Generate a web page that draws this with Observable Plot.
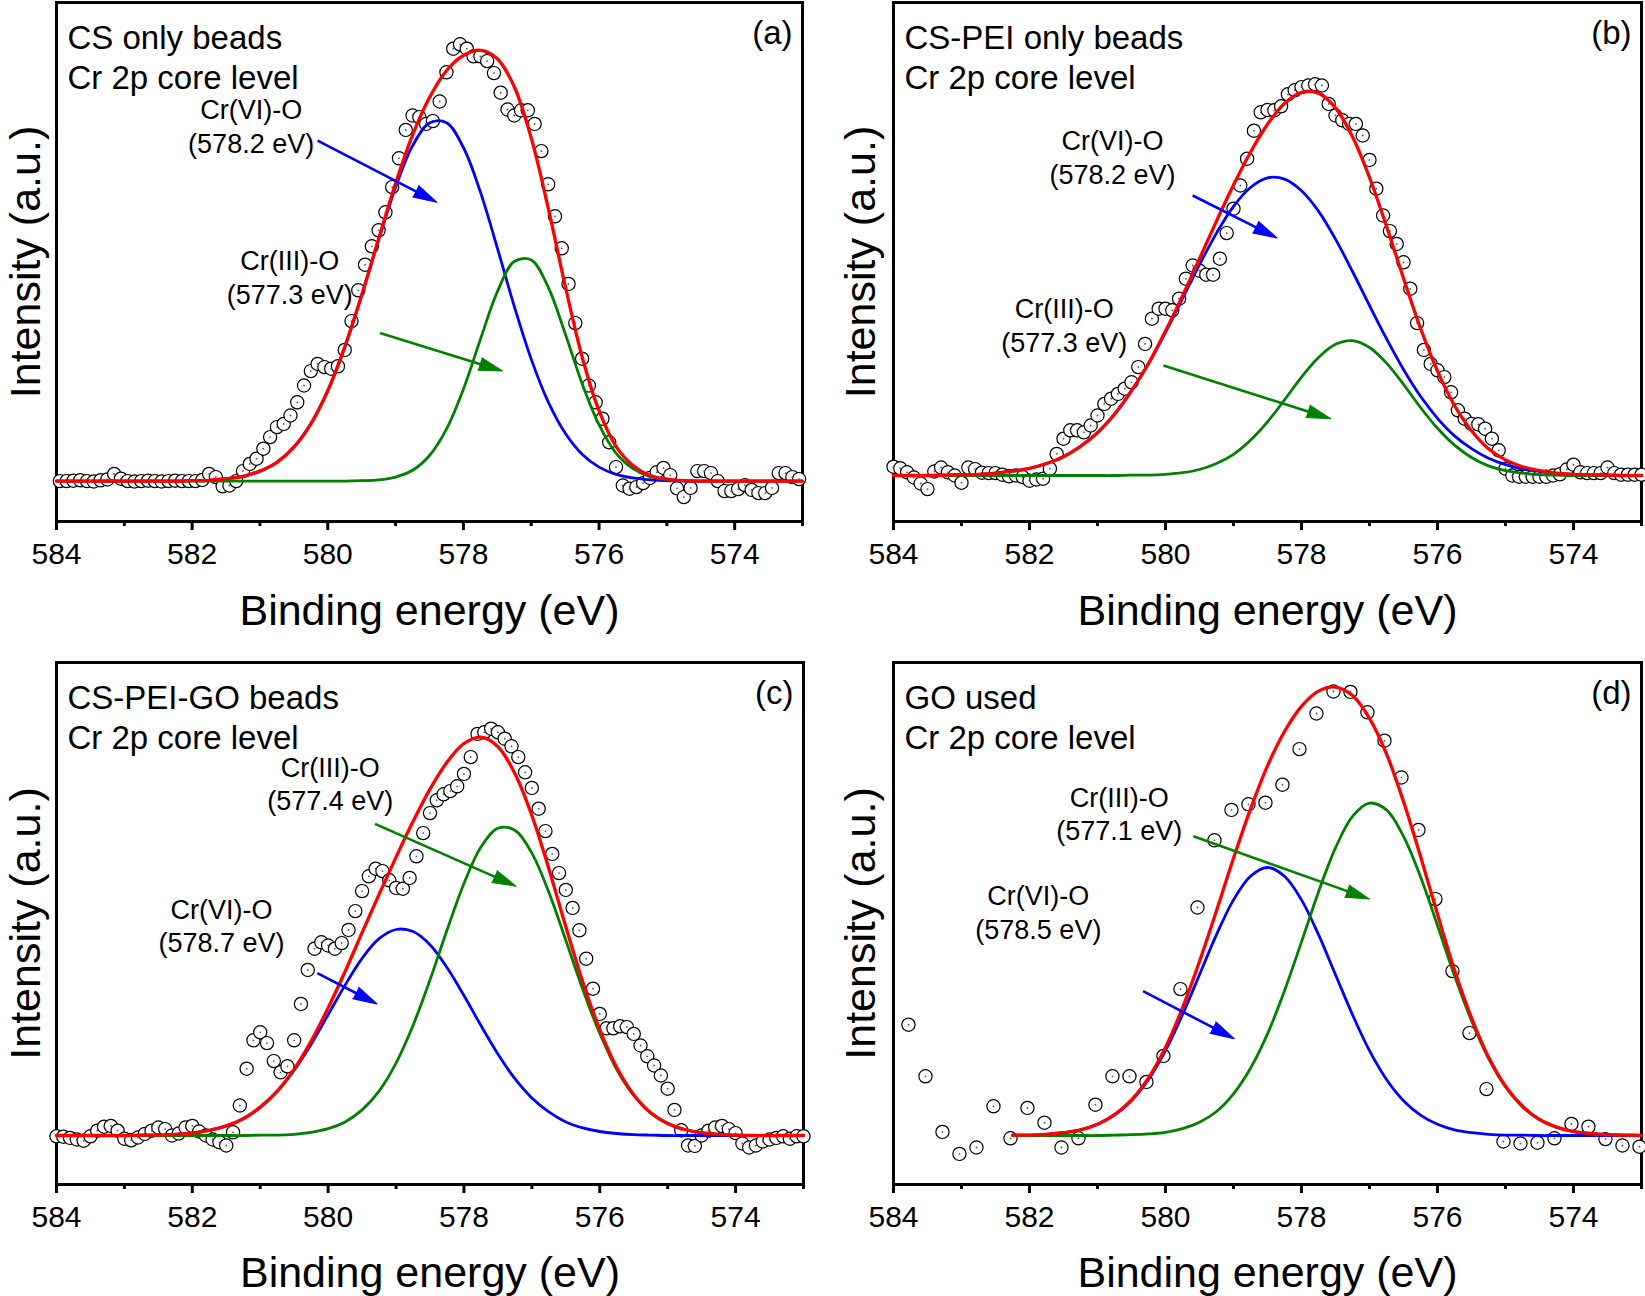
<!DOCTYPE html>
<html>
<head>
<meta charset="utf-8">
<script src="https://cdn.jsdelivr.net/npm/d3@7"></script>
<script src="https://cdn.jsdelivr.net/npm/@observablehq/plot@0.6"></script>
<style>
html,body{margin:0;padding:0;background:#fff;}
#fig{position:relative;width:1645px;height:1296px;overflow:hidden;background:#fff;}
.panel{position:absolute;}
</style>
</head>
<body>
<div id="fig"></div>
<script>
// ---------- DATA ----------
const xTicks = [584, 582, 580, 578, 576, 574];
const xMinorTicks = [583, 581, 579, 577, 575, 573];
const panelTitles = ["CS only beads\nCr 2p core level", "CS-PEI only beads\nCr 2p core level", "CS-PEI-GO beads\nCr 2p core level", "GO used\nCr 2p core level"];
const panelTags = ["(a)", "(b)", "(c)", "(d)"];
const xTitle = "Binding energy (eV)";
const yTitle = "Intensity (a.u.)";

// scan grids (eV) for the measured points
const scanStep = 0.1;
const scanStartA = 583.95, scanStartB = 584.0, scanStartC = 584.0;

const intensityA = [
  0.000,0.000,0.001,0.002,0.000,-0.001,0.002,0.004,0.018,0.006,
  0.000,-0.001,0.000,0.001,0.000,-0.001,0.000,0.001,0.000,0.000,
  0.000,0.003,
  0.018,0.010,-0.013,-0.011,0.000,0.025,0.043,0.056,0.081,0.110,
  0.135,0.143,0.164,0.197,0.239,0.275,0.293,0.285,0.281,0.287,
  0.328,0.400,0.477,0.541,0.587,0.627,0.672,0.735,0.807,0.878,
  0.914,0.910,0.893,0.900,0.949,1.022,1.081,1.092,1.081,1.062,
  1.062,1.050,1.020,0.971,0.929,0.914,0.927,0.927,0.893,0.825,
  0.742,0.662,0.582,0.493,0.395,0.306,0.239,0.197,0.156,0.097,
  0.035,-0.011,-0.019,-0.015,-0.005,0.008,0.022,0.033,0.015,-0.018,
  -0.040,-0.017,0.025,0.025,0.020,0.000,-0.025,-0.025,-0.020,-0.010,
  -0.022,-0.030,-0.030,-0.017,0.020,0.020,0.010,0.005
];
const intensityB = [
  0.022,0.018,0.008,-0.005,-0.020,-0.034,0.010,0.020,0.008,0.000,
  -0.018,0.020,0.016,0.007,0.006,0.006,0.002,-0.002,0.000,-0.004,
  -0.013,-0.010,-0.008,0.017,0.054,0.092,0.113,0.113,0.108,0.125,
  0.150,0.179,0.192,0.204,0.217,0.233,0.271,0.329,0.392,0.417,
  0.417,0.413,0.442,0.492,0.525,0.512,0.502,0.502,0.542,0.606,
  0.667,0.725,0.792,0.862,0.908,0.914,0.913,0.923,0.953,0.963,
  0.971,0.975,0.978,0.975,0.929,0.900,0.888,0.879,0.879,0.850,
  0.789,0.717,0.650,0.611,0.579,0.533,0.467,0.381,0.314,0.279,
  0.263,0.246,0.208,0.163,0.142,0.129,0.128,0.117,0.092,0.063,
  0.017,0.000,-0.003,-0.003,-0.003,-0.003,-0.003,0.000,0.003,0.015,
  0.027,0.008,0.006,0.006,0.006,0.020,0.006,0.002,0.002,0.002,
  0.002
];
const intensityC = [
  -0.002,-0.003,-0.006,-0.010,-0.013,-0.002,0.012,0.022,0.024,0.012,
  -0.008,-0.012,-0.005,0.004,0.012,0.020,0.016,0.000,0.005,0.020,
  0.024,0.010,0.000,-0.010,-0.017,-0.025,0.008,0.075,0.167,0.238,
  0.258,0.231,0.186,0.158,0.173,0.238,0.329,0.414,0.467,0.483,
  0.475,0.467,0.481,0.514,0.561,0.611,0.648,0.667,0.661,0.638,
  0.619,0.617,0.644,0.698,0.756,0.806,0.838,0.853,0.861,0.873,
  0.904,0.946,1.004,1.008,1.017,1.008,0.992,0.973,0.946,0.908,
  0.869,0.817,0.761,0.704,0.656,0.614,0.569,0.513,0.442,0.367,
  0.304,0.268,0.268,0.273,0.271,0.254,0.225,0.198,0.175,0.150,
  0.117,0.064,0.013,-0.025,-0.026,0.000,0.012,0.020,0.024,0.016,
  0.006,-0.020,-0.030,-0.025,-0.015,-0.010,-0.006,-0.002,-0.008,-0.002,
  -0.002
];
const energyD = [583.78,583.53,583.28,583.03,582.78,582.53,582.28,582.03,581.78,581.53,581.28,581.03,580.78,580.53,580.28,580.03,579.78,579.53,579.28,579.03,578.78,578.53,578.28,578.03,577.78,577.53,577.28,577.03,576.78,576.53,576.28,576.03,575.78,575.53,575.28,575.03,574.78,574.53,574.28,574.03,573.78,573.53,573.28,573.03];
const intensityD = [0.277,0.148,0.009,-0.046,-0.030,0.073,-0.007,0.069,0.032,-0.030,-0.007,0.077,0.148,0.148,0.134,0.199,0.366,0.570,0.738,0.814,0.828,0.832,0.877,0.966,1.055,1.110,1.109,1.058,0.987,0.895,0.764,0.591,0.411,0.256,0.116,-0.015,-0.020,-0.018,-0.007,0.029,0.022,-0.009,-0.025,-0.028];

// fitted components, read at 0.25 eV steps
const fitEnergy = [584,583.75,583.5,583.25,583,582.75,582.5,582.25,582,581.75,581.5,581.25,581,580.75,580.5,580.25,580,579.75,579.5,579.25,579,578.75,578.5,578.25,578,577.75,577.5,577.25,577,576.75,576.5,576.25,576,575.75,575.5,575.25,575,574.75,574.5,574.25,574,573.75,573.5,573.25,573];
const fitEnergyD = [582.25,582,581.75,581.5,581.25,581,580.75,580.5,580.25,580,579.75,579.5,579.25,579,578.75,578.5,578.25,578,577.75,577.5,577.25,577,576.75,576.5,576.25,576,575.75,575.5,575.25,575,574.75,574.5,574.25,574,573.75,573.5,573.25,573];

const cr6FitA = [0,0,0,0,0,0,0,0,0.001,0.002,0.006,0.012,0.025,0.047,0.085,0.143,0.226,0.335,0.464,0.603,0.734,0.838,0.895,0.896,0.834,0.723,0.583,0.437,0.305,0.198,0.120,0.067,0.035,0.017,0.008,0.003,0.001,0,0,0,0,0,0,0,0];
const cr3FitA = [0,0,0,0,0,0,0,0,0,0,0,0,0,0,0,0,0,0,0.001,0.003,0.010,0.027,0.064,0.130,0.230,0.354,0.473,0.549,0.553,0.485,0.369,0.244,0.141,0.070,0.031,0.011,0.004,0.001,0,0,0,0,0,0,0];
const envFitA = [0,0,0,0,0,0,0,0,0.001,0.002,0.006,0.012,0.025,0.047,0.085,0.143,0.226,0.335,0.465,0.606,0.744,0.865,0.959,1.026,1.064,1.077,1.056,0.986,0.858,0.683,0.489,0.311,0.176,0.087,0.039,0.014,0.005,0.001,0,0,0,0,0,0,0];

const cr6FitB = [0,0,0,0.001,0.002,0.003,0.006,0.011,0.018,0.030,0.047,0.073,0.107,0.153,0.211,0.279,0.358,0.442,0.527,0.606,0.673,0.720,0.744,0.741,0.712,0.661,0.591,0.510,0.425,0.342,0.265,0.198,0.143,0.099,0.067,0.043,0.027,0.016,0.010,0.005,0.003,0.002,0.001,0,0];
const cr3FitB = [0,0,0,0,0,0,0,0,0,0,0,0,0,0,0.001,0.001,0.003,0.007,0.015,0.030,0.053,0.088,0.134,0.189,0.246,0.295,0.328,0.337,0.320,0.281,0.228,0.170,0.118,0.076,0.045,0.024,0.012,0.006,0.002,0.001,0,0,0,0,0];
const envFitB = [0,0,0,0.001,0.002,0.003,0.006,0.011,0.018,0.030,0.047,0.073,0.107,0.153,0.212,0.280,0.361,0.449,0.542,0.636,0.726,0.808,0.878,0.930,0.958,0.956,0.919,0.847,0.745,0.623,0.493,0.368,0.261,0.175,0.112,0.067,0.039,0.022,0.012,0.006,0.003,0.002,0.001,0,0];

const cr6FitC = [0,0,0,0,0,0.001,0.001,0.003,0.006,0.013,0.024,0.042,0.070,0.110,0.163,0.228,0.302,0.376,0.443,0.492,0.515,0.510,0.477,0.420,0.350,0.275,0.204,0.142,0.094,0.059,0.034,0.019,0.010,0.005,0.002,0.001,0,0,0,0,0,0,0,0,0];
const cr3FitC = [0,0,0,0,0,0,0,0,0,0,0,0,0.001,0.001,0.003,0.008,0.017,0.034,0.064,0.111,0.181,0.275,0.389,0.513,0.630,0.721,0.768,0.763,0.706,0.608,0.488,0.365,0.255,0.165,0.100,0.056,0.030,0.015,0.007,0.003,0.001,0,0,0,0];
const envFitC = [0,0,0,0,0,0.001,0.001,0.003,0.006,0.013,0.024,0.042,0.071,0.111,0.166,0.236,0.319,0.410,0.507,0.603,0.696,0.785,0.866,0.933,0.980,0.996,0.972,0.905,0.800,0.667,0.522,0.384,0.265,0.170,0.102,0.057,0.030,0.015,0.007,0.003,0.001,0,0,0,0];

const cr6FitD = [0.001,0.001,0.003,0.007,0.014,0.028,0.051,0.087,0.140,0.212,0.302,0.402,0.502,0.589,0.648,0.670,0.648,0.589,0.502,0.402,0.302,0.212,0.140,0.087,0.051,0.028,0.014,0.007,0.003,0.001,0.001,0,0,0,0,0,0,0];
const cr3FitD = [0,0,0,0,0,0,0.001,0.002,0.004,0.008,0.017,0.033,0.060,0.104,0.168,0.254,0.362,0.484,0.609,0.719,0.798,0.831,0.814,0.748,0.647,0.525,0.400,0.287,0.193,0.122,0.072,0.040,0.021,0.010,0.005,0.002,0.001,0];
const envFitD = [0.001,0.001,0.003,0.007,0.014,0.028,0.052,0.089,0.144,0.220,0.319,0.435,0.562,0.693,0.816,0.924,1.010,1.073,1.111,1.121,1.100,1.043,0.954,0.835,0.698,0.553,0.414,0.294,0.196,0.123,0.073,0.040,0.021,0.010,0.005,0.002,0.001,0];

// annotations (binding energy, intensity)
const labelsA = [{E: 581.13, I: 0.889, text: "Cr(VI)-O\n(578.2 eV)"}, {E: 580.56, I: 0.512, text: "Cr(III)-O\n(577.3 eV)"}];
const labelsB = [{E: 580.78, I: 0.798, text: "Cr(VI)-O\n(578.2 eV)"}, {E: 581.49, I: 0.379, text: "Cr(III)-O\n(577.3 eV)"}];
const labelsC = [{E: 579.97, I: 0.882, text: "Cr(III)-O\n(577.4 eV)"}, {E: 581.57, I: 0.527, text: "Cr(VI)-O\n(578.7 eV)"}];
const labelsD = [{E: 580.68, I: 0.807, text: "Cr(III)-O\n(577.1 eV)"}, {E: 581.87, I: 0.561, text: "Cr(VI)-O\n(578.5 eV)"}];

const arrowsA = [{s: "VI", E1: 580.15, I1: 0.851, E2: 578.39, I2: 0.697}, {s: "III", E1: 579.23, I1: 0.370, E2: 577.42, I2: 0.275}];
const arrowsB = [{s: "VI", E1: 579.60, I1: 0.700, E2: 578.36, I2: 0.594}, {s: "III", E1: 580.03, I1: 0.275, E2: 577.57, I2: 0.142}];
const arrowsC = [{s: "III", E1: 579.31, I1: 0.779, E2: 577.23, I2: 0.623}, {s: "VI", E1: 580.16, I1: 0.406, E2: 579.28, I2: 0.329}];
const arrowsD = [{s: "III", E1: 579.59, I1: 0.748, E2: 577.00, I2: 0.591}, {s: "VI", E1: 580.33, I1: 0.361, E2: 578.99, I2: 0.242}];

// ---------- STYLE / LAYOUT ----------
const COLORS = {VI: "#0000ff", III: "#008000", env: "#ff0000"};
const FONT = "'Liberation Sans', Arial, Helvetica, sans-serif";

const scanEnergies = (start, n) => Array.from({length: n}, (_, i) => +(start - i * scanStep).toFixed(2));

const panels = [
  {left: 0, top: 0, width: 822, height: 640, m: [2, 20, 119, 56], yDomain: [-0.101, 1.1965], xTitleDy: 90, yTitleDx: -30.5,
   energies: scanEnergies(scanStartA, intensityA.length), intensity: intensityA, fitE: fitEnergy, blue: cr6FitA, green: cr3FitA, red: envFitA, labels: labelsA, arrows: arrowsA},
  {left: 822, top: 0, width: 823, height: 640, m: [2, 4, 119, 71], yDomain: [-0.115, 1.1825], xTitleDy: 90, yTitleDx: -32,
   energies: scanEnergies(scanStartB, intensityB.length), intensity: intensityB, fitE: fitEnergy, blue: cr6FitB, green: cr3FitB, red: envFitB, labels: labelsB, arrows: arrowsB},
  {left: 0, top: 640, width: 822, height: 656, m: [22, 19, 112, 56], yDomain: [-0.1225, 1.1825], xTitleDy: 89, yTitleDx: -30.5,
   energies: scanEnergies(scanStartC, intensityC.length), intensity: intensityC, fitE: fitEnergy, blue: cr6FitC, green: cr3FitC, red: envFitC, labels: labelsC, arrows: arrowsC},
  {left: 822, top: 640, width: 823, height: 656, m: [22, 4, 112, 71], yDomain: [-0.1225, 1.1825], xTitleDy: 89, yTitleDx: -32,
   energies: energyD, intensity: intensityD, fitE: fitEnergyD, blue: cr6FitD, green: cr3FitD, red: envFitD, labels: labelsD, arrows: arrowsD}
];

function makePanel(p, idx) {
  const [mt, mr, mb, ml] = p.m;
  const pw = p.width - ml - mr, ph = p.height - mt - mb;
  const kx = pw / 11, ky = ph / (p.yDomain[1] - p.yDomain[0]);
  const pts = p.energies.map((E, i) => ({E, I: p.intensity[i]}));
  const fit = p.fitE.map((E, i) => ({E, blue: p.blue[i], green: p.green[i], red: p.red[i]}));
  const arrowMarks = [];
  for (const a of p.arrows) {
    const dxp = (a.E1 - a.E2) * kx, dyp = (a.I1 - a.I2) * ky;
    const len = Math.hypot(dxp, dyp);
    const f = Math.max(0, (len - 14) / len);
    const rot = Math.atan2(dxp, -dyp) * 180 / Math.PI;
    const shaft = {x1: a.E1, y1: a.I1, x2: a.E1 + (a.E2 - a.E1) * f, y2: a.I1 + (a.I2 - a.I1) * f};
    const c = COLORS[a.s];
    arrowMarks.push(Plot.link([shaft], {x1: "x1", y1: "y1", x2: "x2", y2: "y2", stroke: c, strokeWidth: 2.6}));
    arrowMarks.push(Plot.vector([{x: a.E2, y: a.I2}], {x: "x", y: "y", rotate: rot, length: 24, r: 6.5, shape: "spike", anchor: "end", fill: c, fillOpacity: 1, stroke: c, strokeWidth: 1}));
  }
  return Plot.plot({
    width: p.width, height: p.height,
    marginTop: mt, marginRight: mr, marginBottom: mb, marginLeft: ml,
    style: `background: transparent; overflow: visible; max-width: none; font-family: ${FONT};`,
    x: {domain: [584, 573], axis: null},
    y: {domain: p.yDomain, axis: null},
    marks: [
      Plot.frame({stroke: "black", strokeWidth: 3}),
      Plot.axisX(xMinorTicks, {tickSize: 5, strokeWidth: 3, fill: "none", label: null}),
      Plot.axisX(xTicks, {tickSize: 9, strokeWidth: 3, tickPadding: 12, fontSize: 30, label: null, tickFormat: d => String(d)}),
      Plot.dot(pts, {x: "E", y: "I", r: 6.6, fill: "white", stroke: "black", strokeWidth: 1.2}),
      Plot.dot(pts, {x: "E", y: "I", r: 0.9, fill: "#555"}),
      Plot.line(fit, {x: "E", y: "blue", stroke: COLORS.VI, strokeWidth: 2.8, curve: "catmull-rom"}),
      Plot.line(fit, {x: "E", y: "green", stroke: COLORS.III, strokeWidth: 2.8, curve: "catmull-rom"}),
      Plot.line(fit, {x: "E", y: "red", stroke: COLORS.env, strokeWidth: 3.3, curve: "catmull-rom"}),
      ...arrowMarks,
      Plot.text(p.labels, {x: "E", y: "I", text: "text", fontSize: 27, lineHeight: 1.25, textAnchor: "middle", lineAnchor: "middle", fill: "black"}),
      Plot.text([panelTitles[idx]], {frameAnchor: "top-left", dx: 11, dy: 18, lineAnchor: "top", textAnchor: "start", fontSize: 33, lineHeight: 1.22, fill: "black"}),
      Plot.text([panelTags[idx]], {frameAnchor: "top-right", dx: -10, dy: 18, lineAnchor: "top", textAnchor: "end", fontSize: 33, fill: "black"}),
      Plot.text([xTitle], {frameAnchor: "bottom", dy: p.xTitleDy, textAnchor: "middle", lineAnchor: "middle", fontSize: 43, fill: "black"}),
      Plot.text([yTitle], {frameAnchor: "left", dx: p.yTitleDx, rotate: -90, textAnchor: "middle", lineAnchor: "middle", fontSize: 43, fill: "black"})
    ]
  });
}

const fig = document.getElementById("fig");
panels.forEach((p, i) => {
  const div = document.createElement("div");
  div.className = "panel";
  div.style.left = p.left + "px";
  div.style.top = p.top + "px";
  div.style.width = p.width + "px";
  div.style.height = p.height + "px";
  div.appendChild(makePanel(p, i));
  fig.appendChild(div);
});
</script>
</body>
</html>
